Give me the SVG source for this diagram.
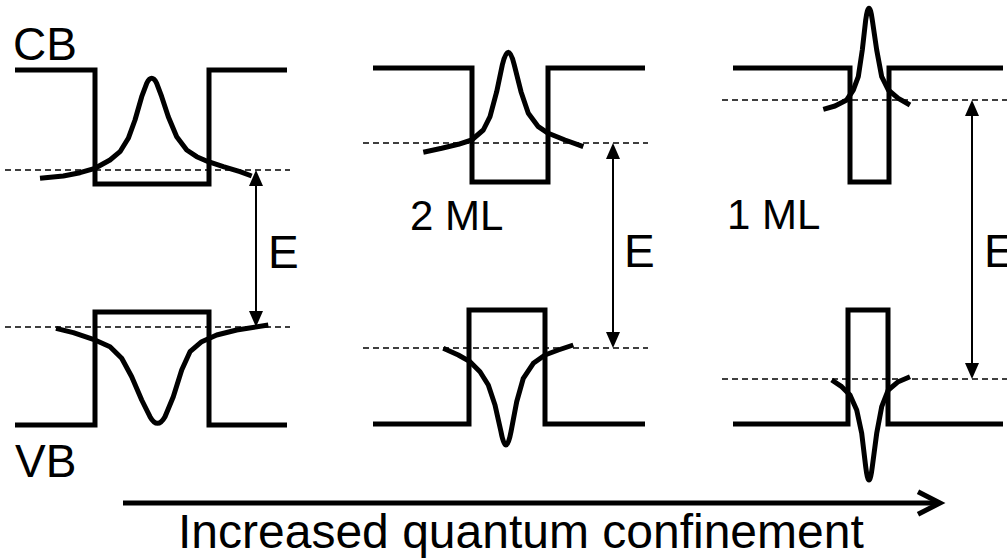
<svg xmlns="http://www.w3.org/2000/svg" width="1007" height="560" viewBox="0 0 1007 560">
<style>
.band{fill:none;stroke:#000;stroke-width:5;stroke-linejoin:miter;stroke-linecap:butt}
.wave{fill:none;stroke:#000;stroke-width:5;stroke-linejoin:round;stroke-linecap:butt}
.level{fill:none;stroke:#000;stroke-width:1.5;stroke-dasharray:6 4}
.earrow{fill:none;stroke:#000;stroke-width:2}
.big{fill:none;stroke:#000;stroke-width:5;stroke-linejoin:miter}
.lbl{font-family:"Liberation Sans",Arial,sans-serif;font-size:46px;fill:#000}
.ml{font-family:"Liberation Sans",Arial,sans-serif;font-size:42px;fill:#000}
.cap{font-family:"Liberation Sans",Arial,sans-serif;font-size:48px;fill:#000}
</style>
<defs>
<marker id="tri" viewBox="0 0 16 14" markerUnits="userSpaceOnUse" markerWidth="16" markerHeight="14" refX="13" refY="7" orient="auto-start-reverse">
<path d="M0,0 L16,7 L0,14 z" fill="#000"/>
</marker>
</defs>
<rect width="1007" height="560" fill="#fff"/>

<g id="panel1">
<g id="p1-cb-band"><polyline class="band" points="15,70 95,70 95,184 209,184 209,70 287,70"/></g>
<g id="p1-vb-band"><polyline class="band" points="15,425 95,425 95,312 209,312 209,425 287,425"/></g>
<g id="p1-cb-level"><line class="level" x1="5" y1="170" x2="290" y2="170"/></g>
<g id="p1-vb-level"><line class="level" x1="5" y1="327" x2="290" y2="327"/></g>
<g id="p1-cb-wave"><path class="wave" d="M40,178.3 L63.3,176 L80,172.7 L95,168.3 L110,160 L120,151.7 L128.3,138.3 L135,120 L141.7,96.7 L146.7,83.3 Q151.7,73.3 156.7,83.3 L161.7,96.7 L168.3,116.7 L176.7,136.7 L186.7,150 L196.7,156.7 L208.3,161.7 L223.3,166.7 L240,171.7 L251.7,176"/></g>
<g id="p1-vb-wave"><path class="wave" d="M56,328.3 L73.3,332.7 L93.3,339.3 L110,346.7 L121.7,358.3 L131.7,376.7 L141.7,400 L150,416.7 Q157.5,430 165,416.7 L173.3,396.7 L181.7,370 L190,351.7 L201.7,341.7 L216.7,335 L236.7,330 L268.3,325"/></g>
<g id="label-cb"><text class="lbl" x="13" y="60">CB</text></g>
<g id="label-vb"><text class="lbl" x="15" y="477">VB</text></g>
<g id="label-e1"><text class="lbl" x="268" y="268">E</text></g>
</g>

<g id="panel2">
<g id="p2-cb-band"><polyline class="band" points="373,68 472,68 472,182 548,182 548,68 645,68"/></g>
<g id="p2-vb-band"><polyline class="band" points="373,424 469,424 469,310 545,310 545,424 645,424"/></g>
<g id="p2-cb-level"><line class="level" x1="363" y1="143" x2="648" y2="143"/></g>
<g id="p2-vb-level"><line class="level" x1="363" y1="348" x2="648" y2="348"/></g>
<g id="p2-cb-wave"><path class="wave" d="M423.3,152.3 L441.7,148.3 L458.3,144.3 L471.7,140 L483.3,130 L490,116.7 L496.7,91.7 L502.3,65 Q508.3,39.6 514.3,65 L521,91.7 L528.3,113.3 L538.3,126.7 L548.3,133.3 L565,140 L583.3,146.7"/></g>
<g id="p2-vb-wave"><path class="wave" d="M443.3,348.3 L458.3,355 L470,361.7 L480,371.7 L488.3,385 L495,405 L501,431.7 Q506,458.3 511,431.7 L516.7,401.7 L523.3,378.3 L533.3,363.3 L545,355 L558.3,350 L573.3,345"/></g>
<g id="label-2ml"><text class="ml" x="410" y="230">2 ML</text></g>
<g id="label-e2"><text class="lbl" x="624" y="267">E</text></g>
</g>

<g id="panel3">
<g id="p3-cb-band"><polyline class="band" points="733,68 850,68 850,182 889,182 889,68 1003,68"/></g>
<g id="p3-vb-band"><polyline class="band" points="733,424 848,424 848,310 888,310 888,424 1003,424"/></g>
<g id="p3-cb-level"><line class="level" x1="722" y1="100" x2="1007" y2="100"/></g>
<g id="p3-vb-level"><line class="level" x1="722" y1="379" x2="1007" y2="379"/></g>
<g id="p3-cb-wave"><path class="wave" d="M823.3,109.3 L835,106 L846.7,100 L853.3,90 L858.3,76.7 L862.3,50 L865.7,20 Q869,-3.4 872.3,20 L876.7,50 L881.7,76.7 L888.3,90 L898.3,98.3 L910,105"/></g>
<g id="p3-vb-wave"><path class="wave" d="M831.7,380 L841.7,386.7 L850,395 L856.7,410 L861.7,433.3 L865.7,466.7 Q869,493.3 872.3,466.7 L876.7,433.3 L881.7,406.7 L888.3,390 L898.3,381.7 L910,376.7"/></g>
<g id="label-1ml"><text class="ml" x="727" y="229">1 ML</text></g>
<g id="label-e3"><text class="lbl" x="984" y="267">E</text></g>
</g>

<g id="connectors">
<line class="earrow" x1="256" y1="173" x2="256" y2="324" marker-start="url(#tri)" marker-end="url(#tri)"/>
<line class="earrow" x1="613" y1="146" x2="613" y2="345" marker-start="url(#tri)" marker-end="url(#tri)"/>
<line class="earrow" x1="972" y1="103" x2="972" y2="376" marker-start="url(#tri)" marker-end="url(#tri)"/>
<line class="big" x1="123" y1="503" x2="938" y2="503"/>
<path class="big" d="M918,491.7 L940,503 L918,514.3"/>
</g>

<g id="caption"><text class="cap" x="178" y="548">Increased quantum confinement</text></g>
</svg>
